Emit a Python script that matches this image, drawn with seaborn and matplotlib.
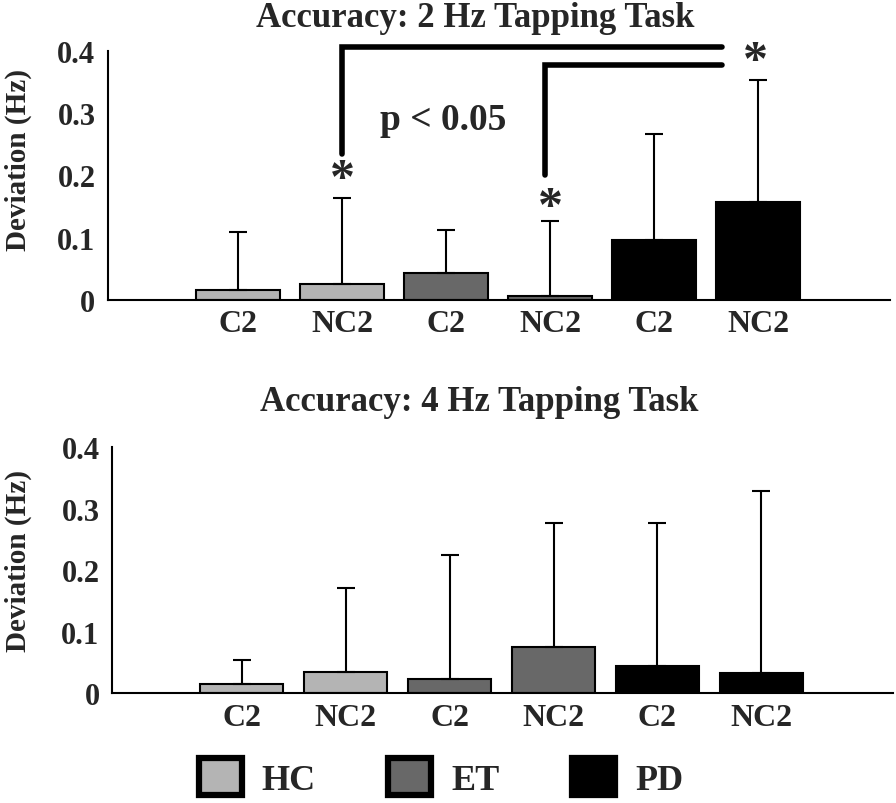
import numpy as np
import pandas as pd
import matplotlib
matplotlib.use("Agg")
import matplotlib.pyplot as plt
import seaborn as sns
from matplotlib.patches import Patch

# data
groups = ["HC", "HC", "ET", "ET", "PD", "PD"]
conditions = ["C2", "NC2", "C2", "NC2", "C2", "NC2"]
mean_2hz = [0.016, 0.025, 0.043, 0.006, 0.096, 0.157]
top_2hz = [0.109, 0.164, 0.113, 0.127, 0.266, 0.354]
mean_4hz = [0.015, 0.034, 0.023, 0.076, 0.044, 0.033]
top_4hz = [0.055, 0.172, 0.225, 0.277, 0.277, 0.329]
group_colors = {"HC": "#b4b4b4", "ET": "#686868", "PD": "#000000"}

sns.set_style("white")
plt.rcParams['font.family'] = ['Liberation Serif', 'DejaVu Serif']
plt.rcParams['font.weight'] = 'bold'

fig = plt.figure(figsize=(8.96, 8.04), dpi=100)
ax1 = fig.add_axes([0.1205, 0.626, 0.873, 0.309])
ax2 = fig.add_axes([0.125, 0.1364, 0.872, 0.306])

slots = [g + " " + c for g, c in zip(groups, conditions)]


def draw_panel(ax, means, tops, title, title_pad, label_x, label_y):
    df = pd.DataFrame({"slot": slots, "group": groups, "value": means})
    sns.barplot(data=df, x="slot", y="value", hue="group", order=slots,
                palette=group_colors, dodge=False, width=0.8,
                edgecolor="black", linewidth=1.5, legend=False, ax=ax)
    upper = np.array(tops) - np.array(means)
    ax.errorbar(np.arange(len(slots)), means,
                yerr=[np.zeros(len(slots)), upper], fmt="none",
                ecolor="black", elinewidth=1.5, capsize=6.5, capthick=1.5)
    ax.set_xlim(-1.25, 6.27)
    ax.set_ylim(0, 0.4)
    ax.set_yticks([0, 0.1, 0.2, 0.3, 0.4])
    ax.set_yticklabels(["0", "0.1", "0.2", "0.3", "0.4"], fontsize=22,
                       fontweight="bold")
    ax.set_xticks(np.arange(len(slots)))
    ax.set_xticklabels(conditions, fontsize=23, fontweight="bold")
    ax.tick_params(axis="y", length=0, pad=9)
    ax.tick_params(axis="x", length=0, pad=7)
    ax.set_xlabel("")
    ax.set_ylabel("Deviation (Hz)", fontsize=21, fontweight="bold")
    ax.yaxis.set_label_coords(label_x, label_y)
    sns.despine(ax=ax)
    for s in ["left", "bottom"]:
        ax.spines[s].set_linewidth(1.5)
        ax.spines[s].set_color("black")
    ax.set_title(title, fontsize=25, fontweight="bold", x=0.47, pad=title_pad)


draw_panel(ax1, mean_2hz, top_2hz, "Accuracy: 2 Hz Tapping Task", 18,
           -0.097, 0.565)
draw_panel(ax2, mean_4hz, top_4hz, "Accuracy: 4 Hz Tapping Task", 27,
           -0.102, 0.54)

# significance brackets on the 2 Hz panel
lw = 4
ax1.plot([1, 1, 4.65], [0.235, 0.407, 0.407], color="black", lw=lw,
         clip_on=False, solid_joinstyle="miter")
ax1.plot([2.95, 2.95, 4.65], [0.20, 0.378, 0.378], color="black", lw=lw,
         clip_on=False, solid_joinstyle="miter")
for x, y in [(1, 0.192), (3, 0.148), (4.97, 0.382)]:
    ax1.text(x, y, "*", ha="center", va="center", fontsize=36,
             fontweight="bold", clip_on=False)
ax1.text(1.97, 0.29, "p < 0.05", ha="center", va="center", fontsize=27,
         fontweight="bold")

handles = [Patch(facecolor=group_colors[g], edgecolor="black", linewidth=4.5)
           for g in ["HC", "ET", "PD"]]
fig.legend(handles, ["HC", "ET", "PD"], loc="center", ncol=3,
           bbox_to_anchor=(0.492, 0.032), frameon=False,
           prop={"size": 26, "weight": "bold"}, handlelength=1.2,
           handleheight=1.2, handletextpad=0.55, columnspacing=2.0)

fig.savefig("out.png", dpi=100)
